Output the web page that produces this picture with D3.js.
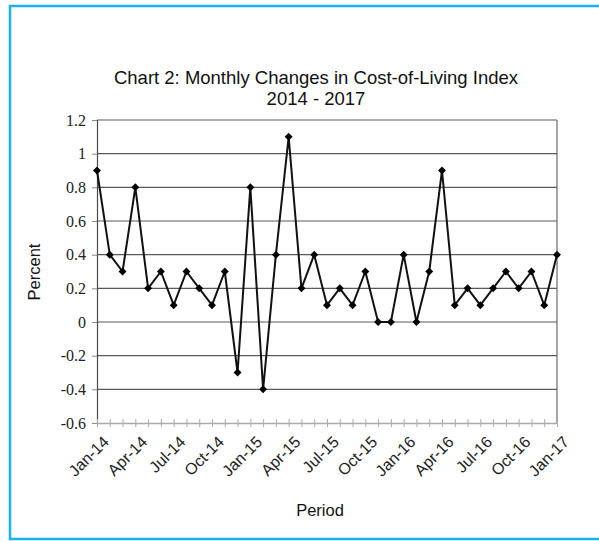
<!DOCTYPE html>
<html>
<head>
<meta charset="utf-8">
<script src="https://cdn.jsdelivr.net/npm/d3@7"></script>
<style>
  html, body { margin: 0; padding: 0; background: #fff; }
  svg { display: block; }
</style>
</head>
<body>
<script>
const months = ['Jan-14', 'Feb-14', 'Mar-14', 'Apr-14', 'May-14', 'Jun-14', 'Jul-14', 'Aug-14', 'Sep-14', 'Oct-14', 'Nov-14', 'Dec-14',
                'Jan-15', 'Feb-15', 'Mar-15', 'Apr-15', 'May-15', 'Jun-15', 'Jul-15', 'Aug-15', 'Sep-15', 'Oct-15', 'Nov-15', 'Dec-15',
                'Jan-16', 'Feb-16', 'Mar-16', 'Apr-16', 'May-16', 'Jun-16', 'Jul-16', 'Aug-16', 'Sep-16', 'Oct-16', 'Nov-16', 'Dec-16',
                'Jan-17'];
const changes = [0.9, 0.4, 0.3, 0.8, 0.2, 0.3, 0.1, 0.3, 0.2, 0.1, 0.3, -0.3,
                 0.8, -0.4, 0.4, 1.1, 0.2, 0.4, 0.1, 0.2, 0.1, 0.3, 0, 0,
                 0.4, 0, 0.3, 0.9, 0.1, 0.2, 0.1, 0.2, 0.3, 0.2, 0.3, 0.1,
                 0.4];
const yTicks = [-0.6, -0.4, -0.2, 0, 0.2, 0.4, 0.6, 0.8, 1, 1.2];
const xLabels = ['Jan-14', 'Apr-14', 'Jul-14', 'Oct-14', 'Jan-15', 'Apr-15', 'Jul-15',
                 'Oct-15', 'Jan-16', 'Apr-16', 'Jul-16', 'Oct-16', 'Jan-17'];

const width = 599, height = 541;
const plot = { left: 97, right: 557, top: 120, bottom: 423 };

const svg = d3.select('body').append('svg')
  .attr('width', width)
  .attr('height', height);

// blue frame
svg.append('rect')
  .attr('x', 10).attr('y', 6)
  .attr('width', width + 20).attr('height', 533)
  .attr('fill', 'none')
  .attr('stroke', '#17b4ee')
  .attr('stroke-width', 2.5);

const x = d3.scalePoint().domain(months).range([plot.left, plot.right]);
const y = d3.scaleLinear().domain([-0.6, 1.2]).range([plot.bottom, plot.top]);

// gridlines
svg.append('g')
  .selectAll('line')
  .data(yTicks.filter((d) => d > -0.6))
  .join('line')
  .attr('x1', plot.left).attr('x2', plot.right)
  .attr('y1', (d) => y(d)).attr('y2', (d) => y(d))
  .attr('stroke', '#5a5a5a')
  .attr('stroke-width', 1.2);

// right border
svg.append('line')
  .attr('x1', plot.right).attr('x2', plot.right)
  .attr('y1', plot.top).attr('y2', plot.bottom)
  .attr('stroke', '#6a6a6a')
  .attr('stroke-width', 1.2);

// y axis
const yAxis = svg.append('g')
  .attr('transform', `translate(${plot.left},0)`)
  .call(d3.axisLeft(y).tickValues(yTicks).tickSize(5).tickPadding(6)
    .tickFormat((d) => String(Math.round(d * 10) / 10)));
yAxis.select('.domain').attr('stroke', '#4a4a4a').attr('stroke-width', 1.2);
yAxis.selectAll('.tick line').attr('stroke', '#888');
yAxis.selectAll('text')
  .attr('font-family', '"Liberation Serif", "Times New Roman", serif')
  .attr('font-size', 16)
  .attr('fill', '#222');

// x axis with a tick for every month
const xAxis = svg.append('g')
  .attr('transform', `translate(0,${plot.bottom})`)
  .call(d3.axisBottom(x).tickSize(4).tickSizeOuter(0).tickFormat(''));
xAxis.select('.domain').attr('stroke', '#aaa').attr('stroke-width', 1.5);
xAxis.selectAll('.tick line').attr('stroke', '#aaa').attr('y1', -4).attr('y2', 4);

svg.append('g')
  .selectAll('text')
  .data(xLabels)
  .join('text')
  .attr('transform', (d) => `translate(${x(d) + 5},${plot.bottom + 12}) rotate(-45)`)
  .attr('text-anchor', 'end')
  .attr('dy', '0.7em')
  .attr('font-family', '"Liberation Sans", Arial, sans-serif')
  .attr('font-size', 16)
  .attr('fill', '#222')
  .text((d) => d);

// series line and markers
svg.append('path')
  .datum(changes)
  .attr('fill', 'none')
  .attr('stroke', '#111')
  .attr('stroke-width', 2)
  .attr('stroke-linejoin', 'round')
  .attr('d', d3.line().x((d, i) => x(months[i])).y((d) => y(d)));

svg.append('g')
  .selectAll('path')
  .data(changes)
  .join('path')
  .attr('transform', (d, i) => `translate(${x(months[i])},${y(d)})`)
  .attr('d', d3.symbol(d3.symbolDiamond2, 40))
  .attr('fill', '#000');

// titles
const title = svg.append('text')
  .attr('x', 316)
  .attr('text-anchor', 'middle')
  .attr('font-family', '"Liberation Sans", Arial, sans-serif')
  .attr('font-size', 18.5)
  .attr('fill', '#111');
title.append('tspan').attr('x', 316).attr('y', 84).text('Chart 2: Monthly Changes in Cost-of-Living Index');
title.append('tspan').attr('x', 316).attr('y', 105).text('2014 - 2017');

svg.append('text')
  .attr('transform', 'translate(40,272) rotate(-90)')
  .attr('text-anchor', 'middle')
  .attr('font-family', '"Liberation Sans", Arial, sans-serif')
  .attr('font-size', 16.5)
  .attr('fill', '#111')
  .text('Percent');

svg.append('text')
  .attr('x', 320).attr('y', 516)
  .attr('text-anchor', 'middle')
  .attr('font-family', '"Liberation Sans", Arial, sans-serif')
  .attr('font-size', 16.5)
  .attr('fill', '#111')
  .text('Period');
</script>
</body>
</html>
